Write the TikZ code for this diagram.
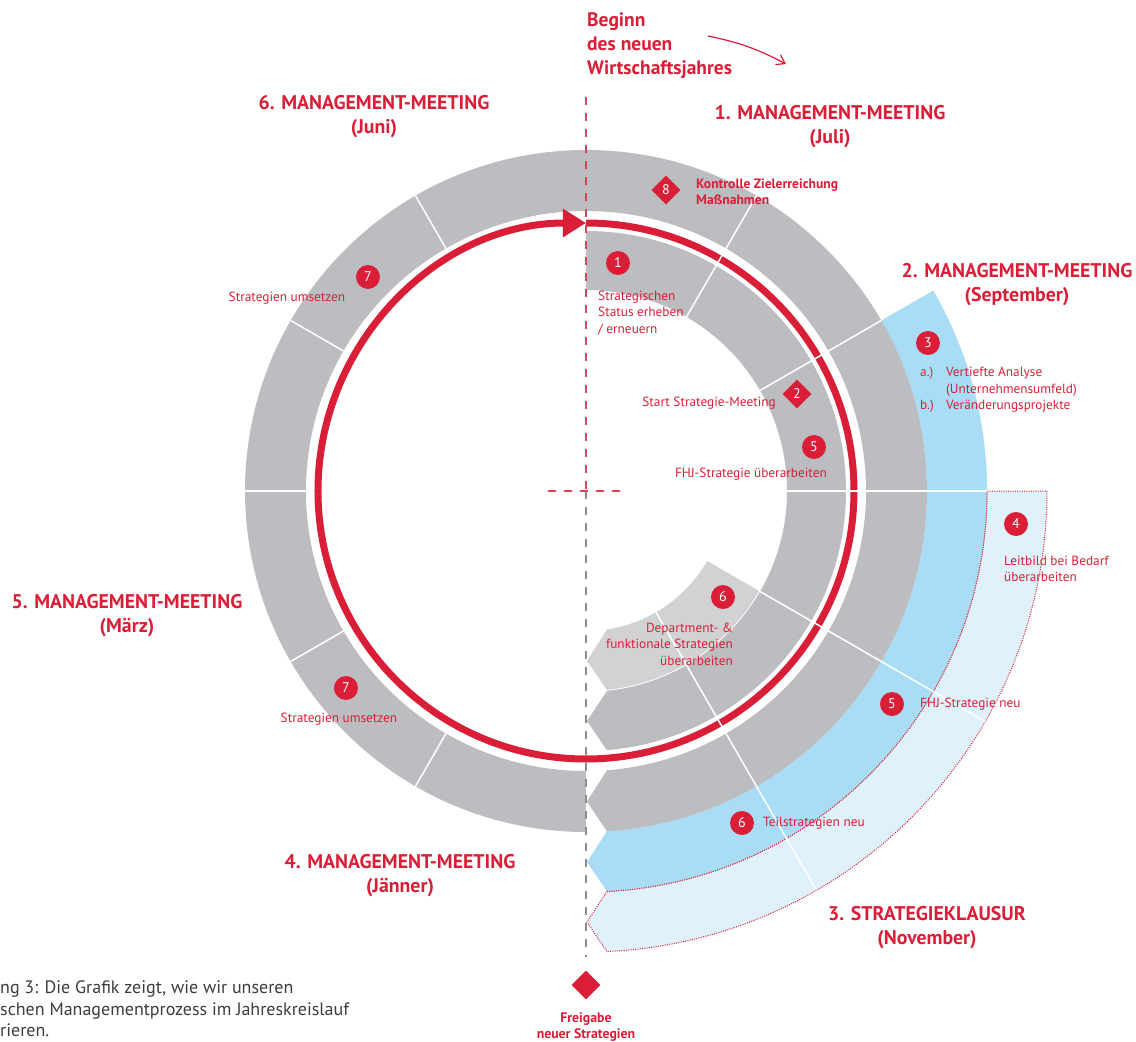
\documentclass[tikz,border=0pt]{standalone}
\usepackage{fontspec}
\setmainfont{PT Sans}
\usepackage{tikz}
\usetikzlibrary{positioning, arrows.meta, shapes.geometric}
\usepackage{xcolor}
\definecolor{fhred}{RGB}{218,30,55}
\definecolor{ringgray}{RGB}{188,189,192}
\definecolor{lightgray}{RGB}{209,210,212}
\definecolor{bandblue}{RGB}{168,221,245}
\definecolor{paleblue}{RGB}{223,241,251}
\definecolor{captiongray}{RGB}{60,60,59}
\tikzset{title/.style={font=\bfseries\fontsize{19.8}{24}\selectfont, text=fhred, align=center, inner sep=0},
         label/.style={font=\fontsize{13.3}{16.5}\selectfont, text=fhred, inner sep=0},
         numdot/.style={circle, fill=fhred, text=white, minimum size=24pt, inner sep=0, font=\fontsize{14}{14}\selectfont},
         numdiamond/.style={diamond, fill=fhred, text=white, minimum size=29pt, inner sep=0, font=\fontsize{14}{14}\selectfont},
         divider/.style={white, line width=1.5pt},
         ringline/.style={fhred, line width=7pt, -{Triangle[length=23pt, width=27pt]}},
         dotline/.style={fhred, line width=1pt, dash pattern=on 1pt off 1.3pt},
         axisred/.style={fhred!85, line width=1.3pt, dash pattern=on 8pt off 8pt},
         axisgray/.style={black!45, line width=1.3pt, dash pattern=on 8pt off 8pt}}

\begin{document}
\begin{tikzpicture}[x=1pt, y=1pt]
        \useasboundingbox (-586,-551) rectangle (550,491);

        % Bands
        \fill[paleblue] (0:461) arc[start angle=0, end angle=-87.4, radius=461] -- (1,-431)
            -- (-87:401) arc[start angle=-87, end angle=0, radius=401] -- cycle;
        \draw[dotline] (0:461) arc[start angle=0, end angle=-87.4, radius=461] -- (1,-431)
            -- (-87:401) arc[start angle=-87, end angle=0, radius=401] -- cycle;
        \fill[bandblue] (30:401) arc[start angle=30, end angle=-87, radius=401] -- (1,-371)
            -- (-86.5:341) arc[start angle=-86.5, end angle=30, radius=341] -- cycle;
        \draw[dotline] (-87:401) arc[start angle=-87, end angle=0, radius=401];
        \fill[ringgray] (-86.5:341) arc[start angle=-86.5, end angle=270, radius=341]
            -- (270:280) arc[start angle=270, end angle=-85.7, radius=280] -- (1,-310.5) -- cycle;
        \fill[ringgray] (90:260) arc[start angle=90, end angle=-85.4, radius=260] -- (1,-230)
            -- (-84:201) arc[start angle=-84, end angle=90, radius=201] -- cycle;
        \fill[lightgray] (-30:200) arc[start angle=-30, end angle=-84, radius=200] -- (1,-170)
            -- (-81.4:140) arc[start angle=-81.4, end angle=-30, radius=140] -- cycle;

        % Cycle
        \draw[ringline] (90:268) arc[start angle=90, end angle=-270, radius=268];

        % Dividers
        \foreach \a in {60, 30} \draw[divider] (\a:201) -- (\a:341);
        \draw[divider] (0:201) -- (0:401);
        \draw[divider] (-30:200) -- (-30:461);
        \draw[divider] (-60:140) -- (-60:461);
        \foreach \a in {120, 150, 180, 210, 240} \draw[divider] (\a:280) -- (\a:341);

        % Axes
        \coordinate (top) at (0,394);
        \coordinate (mid) at (0,0);
        \coordinate (bottom) at (0,-466);
        \coordinate (left) at (-38,0);
        \coordinate (right) at (38,0);
        \draw[axisred] (top) -- (mid);
        \draw[axisgray] (mid) -- (bottom);
        \draw[axisred] (left) -- (right);

        % Headings
        \node[title, anchor=west, align=left, font=\bfseries\fontsize{19.5}{24}\selectfont] (beginn) at (1,445) {Beginn\\des neuen\\Wirtschaftsjahres};
        \coordinate (arrS) at (122,455);
        \coordinate (arrE) at (200,427);
        \draw[fhred, line width=1.2pt, -{Straight Barb[length=8pt, width=11pt]}] (arrS) to[bend left=8] (arrE);
        \node[title] (mm1) at (244,364) {1. MANAGEMENT-MEETING\\(Juli)};
        \node[title] (mm6) at (-212,374) {6. MANAGEMENT-MEETING\\(Juni)};
        \node[title] (mm2) at (431,206) {2. MANAGEMENT-MEETING\\(September)};
        \node[title] (mm5) at (-459,-125) {5. MANAGEMENT-MEETING\\(März)};
        \node[title] (mm4) at (-186,-385) {4. MANAGEMENT-MEETING\\(Jänner)};
        \node[title] (klausur) at (341,-437) {3. STRATEGIEKLAUSUR\\(November)};
        \node[numdiamond] (release) at (0,-494) {};
        \node[title, font=\bfseries\fontsize{13.8}{16}\selectfont] (freigabe) at (0,-536) {Freigabe\\neuer Strategien};

        % Steps
        \node[numdiamond] (n8) at (80,301) {8};
        \node[label, font=\bfseries\fontsize{13.6}{16}\selectfont, anchor=west, align=left] (t8) at (110,299) {Kontrolle Zielerreichung\\Maßnahmen};
        \node[numdot] (n1) at (32,228) {1};
        \node[label, anchor=west, align=left] (t1) at (12,178) {Strategischen\\Status erheben\\/ erneuern};
        \node[numdiamond] (n2) at (211,97) {2};
        \node[label, anchor=east] (t2) at (190,88) {Start Strategie-Meeting};
        \node[numdot] (n5) at (228,44) {5};
        \node[label, anchor=east] (t5) at (241,17) {FHJ-Strategie überarbeiten};
        \node[numdot] (n3) at (342,148) {3};
        \node[label, anchor=west, align=left] (t3) at (334,101) {\makebox[26pt][l]{a.)}Vertiefte Analyse\\\hspace*{26pt}(Unternehmensumfeld)\\\makebox[26pt][l]{b.)}Veränderungsprojekte};
        \node[numdot] (n4) at (430,-33) {4};
        \node[label, anchor=west, align=left] (t4) at (418,-78) {Leitbild bei Bedarf\\überarbeiten};
        \node[numdot] (n5b) at (306,-213) {5};
        \node[label, anchor=west] (t5b) at (334,-213) {FHJ-Strategie neu};
        \node[numdot] (n6) at (156,-332) {6};
        \node[label, anchor=west] (t6) at (177,-332) {Teilstrategien neu};
        \node[numdot] (n6b) at (137,-106) {6};
        \node[label, anchor=east, align=right] (t6b) at (147,-153) {Department- \&\\funktionale Strategien\\überarbeiten};
        \node[numdot] (n7) at (-218,214) {7};
        \node[label] (t7) at (-299,193) {Strategien umsetzen};
        \node[numdot] (n7b) at (-240,-197) {7};
        \node[label] (t7b) at (-247,-228) {Strategien umsetzen};

        % Caption
        \node[font=\fontsize{18}{21.5}\selectfont, text=captiongray, anchor=west, align=left, inner sep=0] (caption) at (-586,-518)
            {ng 3: Die Grafik zeigt, wie wir unseren\\schen Managementprozess im Jahreskreislauf\\rieren.};
    \end{tikzpicture}
\end{document}
